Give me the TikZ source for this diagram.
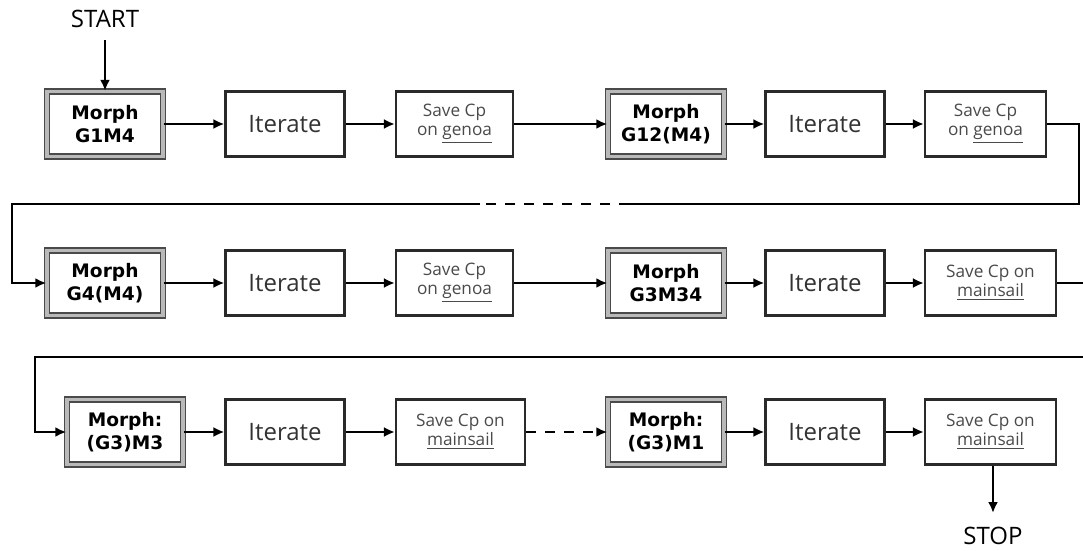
\documentclass[tikz,border=0pt]{standalone}
\usepackage{fontspec}
\setmainfont{Open Sans}
\newfontfamily\morphfont{DejaVu Sans}
\usetikzlibrary{arrows.meta}
\definecolor{boxline}{HTML}{2A2A2A}
\definecolor{txtgray}{HTML}{4A4A4A}
\tikzset{
  x=0.5pt, y=-0.5pt,
  base/.style={draw=boxline, line width=1.1pt, minimum height=32.5pt, inner sep=1pt, align=center},
  morphbox/.style={base, draw=boxline!85, line width=0.7pt, double=gray!55, double distance=1.8pt,
     font=\morphfont\bfseries\fontsize{9.3}{11.5}\selectfont, text=black},
  iterbox/.style={base, minimum width=59.5pt, font=\fontsize{12}{14}\selectfont, text=black!80},
  savebox/.style={base, font=\fontsize{8.6}{9.6}\selectfont, text=txtgray},
  conn/.style={line width=1.1pt, black},
  arr/.style={conn, -{Latex[length=5.5pt,width=5pt]}},
  lbl/.style={font=\fontsize{12}{14}\selectfont, text=black}
}
\begin{document}
\begin{tikzpicture}
\useasboundingbox (0,0) rectangle (1083,551);
% Row 1
\node[morphbox, minimum width=58pt] (m1) at (105,124) {Morph\\G1M4};
\node[iterbox] (i1) at (285,124) {Iterate};
\node[savebox, minimum width=58.5pt] (s1) at (454.5,124) {Save Cp\\on \underline{genoa}};
\node[morphbox, minimum width=58pt] (m2) at (666,124) {Morph\\G12(M4)};
\node[iterbox] (i2) at (825,124) {Iterate};
\node[savebox, minimum width=60.5pt] (s2) at (985.5,124) {Save Cp\\on \underline{genoa}};
% Row 2
\node[morphbox, minimum width=58pt] (m3) at (105,283) {Morph\\G4(M4)};
\node[iterbox] (i3) at (285,283) {Iterate};
\node[savebox, minimum width=58.5pt] (s3) at (454.5,283) {Save Cp\\on \underline{genoa}};
\node[morphbox, minimum width=58pt] (m4) at (666,283) {Morph\\G3M34};
\node[iterbox] (i4) at (825,283) {Iterate};
\node[savebox, minimum width=65.5pt] (s4) at (990.5,283) {Save Cp on\\\underline{mainsail}};
% Row 3
\node[morphbox, minimum width=58pt] (m5) at (125,432) {Morph:\\(G3)M3};
\node[iterbox] (i5) at (285,432) {Iterate};
\node[savebox, minimum width=64.5pt] (s5) at (460.5,432) {Save Cp on\\\underline{mainsail}};
\node[morphbox, minimum width=58pt] (m6) at (666,432) {Morph:\\(G3)M1};
\node[iterbox] (i6) at (825,432) {Iterate};
\node[savebox, minimum width=65.5pt] (s6) at (990.5,432) {Save Cp on\\\underline{mainsail}};
% Start / stop
\node[lbl, anchor=south, inner xsep=0pt, inner ysep=6pt] (start) at (105,40) {START};
\node[lbl, anchor=north, inner xsep=0pt, inner ysep=7pt] (stop) at (993,513) {STOP};
% Connectors
\draw[arr] (start) -- (m1);
\draw[arr] (m1) -- (i1);
\draw[arr] (i1) -- (s1);
\draw[arr] (s1) -- (m2);
\draw[arr] (m2) -- (i2);
\draw[arr] (i2) -- (s2);
\coordinate (c1) at (1079,204);
\coordinate (d1) at (629,204);
\coordinate (d2) at (480,204);
\coordinate (c2) at (12,204);
\draw[conn] (s2.east) -| (c1) -- (d1);
\draw[conn, dash pattern=on 5pt off 4.5pt] (d1) -- (d2);
\draw[arr] (d2) -- (c2) |- (m3.west);
\draw[arr] (m3) -- (i3);
\draw[arr] (i3) -- (s3);
\draw[arr] (s3) -- (m4);
\draw[arr] (m4) -- (i4);
\draw[arr] (i4) -- (s4);
\coordinate (e1) at (1083,283);
\draw[conn] (s4.east) -- (e1);
\coordinate (e2) at (1083,357);
\coordinate (e3) at (35,357);
\draw[arr] (e2) -- (e3) |- (m5.west);
\draw[arr] (m5) -- (i5);
\draw[arr] (i5) -- (s5);
\draw[arr, dash pattern=on 5pt off 4.5pt] (s5) -- (m6);
\draw[arr] (m6) -- (i6);
\draw[arr] (i6) -- (s6);
\draw[arr] (s6.south -| stop.north) -- (stop.north);
\end{tikzpicture}
\end{document}
